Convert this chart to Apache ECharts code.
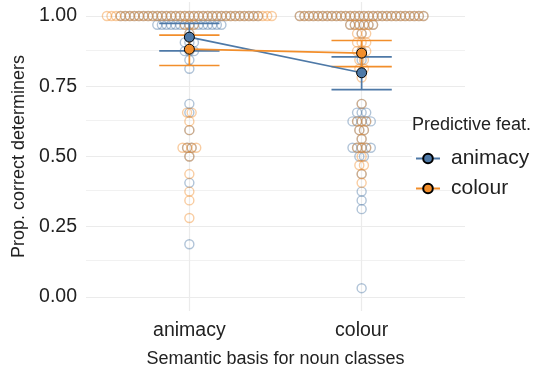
<!DOCTYPE html>
<html>
<head>
<meta charset="utf-8">
<script src="https://cdn.jsdelivr.net/npm/echarts@6/dist/echarts.min.js"></script>
<style>
  html, body { margin: 0; padding: 0; background: #fff; }
  #chart { width: 541px; height: 370px; }
</style>
</head>
<body>
<div id="chart"></div>
<script>
const basisLabels = ['animacy', 'colour'];
const featureNames = ['animacy', 'colour'];
const featureColors = ['#4E79A7', '#F28E2B'];
const nTrials = 32;

// rows of the swarm: [correct trials out of 32, number of participants]
const dotsAnimacyBasisAnimacyFeat = [[32, 31], [31, 15], [30, 1], [29, 3], [28, 3], [27, 1], [26, 1],
  [22, 1], [21, 1], [19, 1], [17, 2], [16, 1], [13, 1], [6, 1]];
const dotsAnimacyBasisColourFeat = [[32, 37], [31, 3], [30, 1], [21, 2], [20, 1], [19, 1], [17, 4],
  [16, 1], [14, 1], [12, 1], [11, 1], [9, 1]];
const dotsColourBasisAnimacyFeat = [[32, 28], [31, 6], [30, 1], [28, 1], [27, 1], [22, 1], [21, 3],
  [20, 5], [19, 2], [18, 1], [17, 5], [16, 2], [14, 1], [12, 1], [11, 1], [10, 1], [1, 1]];
const dotsColourBasisColourFeat = [[32, 28], [31, 6], [30, 3], [29, 3], [28, 3], [27, 2], [26, 2],
  [25, 1], [22, 1], [20, 3], [19, 2], [18, 1], [17, 3], [16, 1], [15, 2], [14, 1], [13, 1]];

// means and 95% CI per basis (animacy, colour)
const meanAnimacyFeat = [0.925, 0.798];
const lowAnimacyFeat = [0.876, 0.738];
const highAnimacyFeat = [0.974, 0.855];
const meanColourFeat = [0.882, 0.868];
const lowColourFeat = [0.824, 0.820];
const highColourFeat = [0.932, 0.913];

const yTicks = [0, 0.25, 0.5, 0.75, 1];
const yMinorTicks = [0.125, 0.375, 0.625, 0.875];
const xTicks = [1, 2];

const font = 'Liberation Sans, Arial, sans-serif';
const textColor = '#222';
const dotPitch = 0.0266;   // x units between neighbouring dots in a row
const capWidth = 0.35;

function swarm(rows, xCenter) {
  const pts = [];
  rows.forEach(([k, n]) => {
    for (let i = 0; i < n; i++) {
      pts.push([xCenter + (i - (n - 1) / 2) * dotPitch, k / nTrials]);
    }
  });
  return pts;
}

function alpha(hex, a) {
  const n = parseInt(hex.slice(1), 16);
  return `rgba(${n >> 16},${(n >> 8) & 255},${n & 255},${a})`;
}

function dotSeries(rows, x, color) {
  return {
    type: 'scatter',
    data: swarm(rows, x),
    symbol: 'circle',
    symbolSize: 9,
    silent: true,
    z: 2,
    itemStyle: { color: 'rgba(0,0,0,0)', borderColor: alpha(color, 0.55), borderWidth: 1.4 },
  };
}

function renderErrorBar(params, api) {
  const x = api.value(0);
  const lo = api.coord([x, api.value(1)]);
  const hi = api.coord([x, api.value(2)]);
  const half = api.size([capWidth, 0])[0] / 2;
  const style = { stroke: api.visual('color'), lineWidth: 1.7 };
  return {
    type: 'group',
    children: [
      { type: 'line', shape: { x1: lo[0], y1: lo[1], x2: hi[0], y2: hi[1] }, style },
      { type: 'line', shape: { x1: lo[0] - half, y1: lo[1], x2: lo[0] + half, y2: lo[1] }, style },
      { type: 'line', shape: { x1: hi[0] - half, y1: hi[1], x2: hi[0] + half, y2: hi[1] }, style },
    ],
  };
}

function errorSeries(low, high, color) {
  return {
    type: 'custom',
    renderItem: renderErrorBar,
    data: xTicks.map((x, i) => [x, low[i], high[i]]),
    encode: { x: 0, y: [1, 2] },
    itemStyle: { color },
    silent: true,
    z: 3,
  };
}

function meanSeries(name, means, color) {
  return {
    name,
    type: 'line',
    data: xTicks.map((x, i) => [x, means[i]]),
    symbol: 'circle',
    symbolSize: 10,
    lineStyle: { color, width: 1.7 },
    itemStyle: { color, borderColor: '#000', borderWidth: 1 },
    z: 5,
  };
}

const chart = echarts.init(document.getElementById('chart'));

const gridLines = {
  type: 'line',
  data: [],
  silent: true,
  z: 0,
  markLine: {
    z: 0,
    silent: true,
    symbol: ['none', 'none'],
    label: { show: false },
    lineStyle: { color: '#ebebeb', type: 'solid' },
    data: [
      ...yMinorTicks.map(v => ({ yAxis: v, lineStyle: { width: 0.7 } })),
      ...yTicks.map(v => ({ yAxis: v, lineStyle: { width: 1.2 } })),
      ...xTicks.map(v => ({ xAxis: v, lineStyle: { width: 1.2 } })),
    ],
  },
};

chart.setOption({
  animation: false,
  grid: { left: 86, right: 76, top: 2, bottom: 59, containLabel: false, outerBoundsMode: 'none' },
  xAxis: {
    type: 'value',
    min: 0.4,
    max: 2.6,
    axisLine: { show: false },
    axisTick: { show: false },
    splitLine: { show: false },
    axisLabel: {
      customValues: xTicks,
      formatter: v => basisLabels[Math.round(v) - 1],
      fontSize: 19.5, fontFamily: font, color: textColor, margin: 10,
    },
    name: 'Semantic basis for noun classes',
    nameLocation: 'middle',
    nameGap: 39,
    nameTextStyle: { fontSize: 18, fontFamily: font, color: textColor },
  },
  yAxis: {
    type: 'value',
    min: -0.05,
    max: 1.05,
    axisLine: { show: false },
    axisTick: { show: false },
    splitLine: { show: false },
    axisLabel: {
      customValues: yTicks,
      formatter: v => v.toFixed(2),
      fontSize: 19.5, fontFamily: font, color: textColor, margin: 9,
    },
    name: 'Prop. correct determiners',
    nameLocation: 'middle',
    nameGap: 50,
    nameTextStyle: { fontSize: 18, fontFamily: font, color: textColor },
  },
  title: {
    text: 'Predictive feat.',
    left: 412,
    top: 116,
    padding: 0,
    textStyle: { fontSize: 18, fontWeight: 'normal', fontFamily: font, color: textColor },
  },
  legend: {
    data: featureNames,
    orient: 'vertical',
    left: 415,
    top: 148,
    padding: 0,
    itemWidth: 24,
    itemHeight: 12,
    itemGap: 9,
    textStyle: { fontSize: 21, fontFamily: font, color: textColor, padding: [0, 0, 0, 6] },
  },
  graphic: [{
    type: 'rect',
    z: 1,
    shape: { x: 412, y: 104, width: 129, height: 86 },
    style: { fill: '#fff' },
    silent: true,
  }],
  series: [
    gridLines,
    dotSeries(dotsAnimacyBasisAnimacyFeat, 1, featureColors[0]),
    dotSeries(dotsAnimacyBasisColourFeat, 1, featureColors[1]),
    dotSeries(dotsColourBasisAnimacyFeat, 2, featureColors[0]),
    dotSeries(dotsColourBasisColourFeat, 2, featureColors[1]),
    errorSeries(lowAnimacyFeat, highAnimacyFeat, featureColors[0]),
    errorSeries(lowColourFeat, highColourFeat, featureColors[1]),
    meanSeries(featureNames[0], meanAnimacyFeat, featureColors[0]),
    meanSeries(featureNames[1], meanColourFeat, featureColors[1]),
  ],
});
</script>
</body>
</html>
